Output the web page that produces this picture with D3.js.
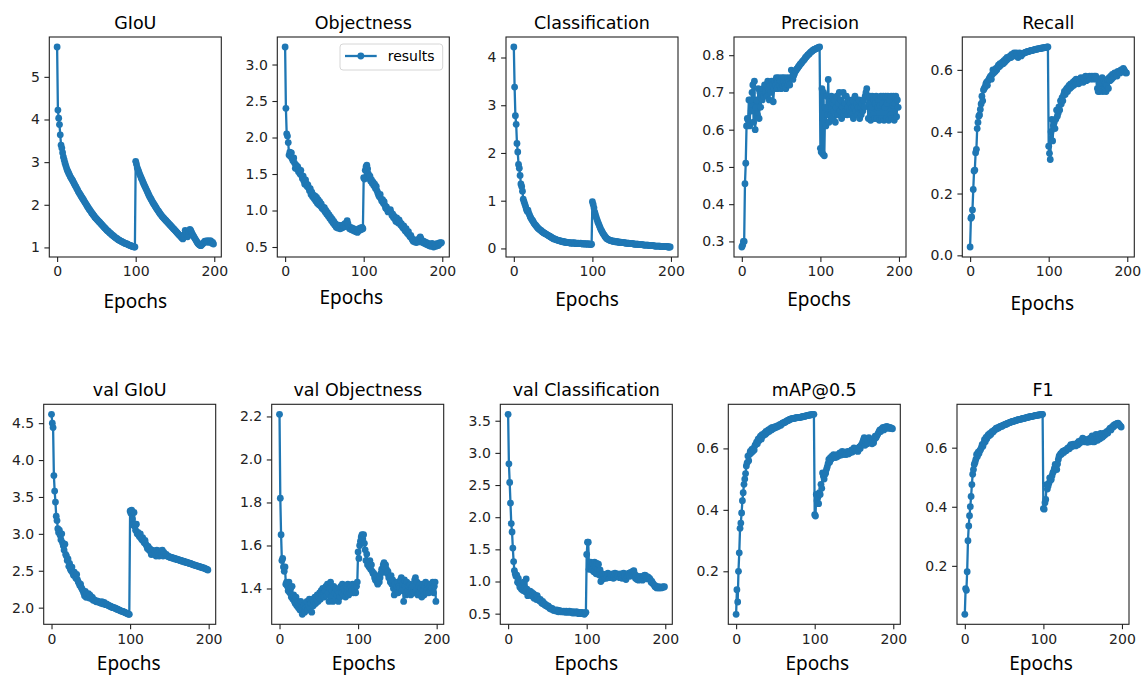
<!DOCTYPE html>
<html>
<head>
<meta charset="utf-8">
<script src="https://cdn.jsdelivr.net/npm/d3@7"></script>
<style>
  body { margin: 0; background: #fff; }
</style>
</head>
<body>
<script>
// epochs 0..199, one value per epoch for every series
const epochs = d3.range(200);

const giou = [
  5.70, 4.22, 4.03, 3.88, 3.64, 3.40, 3.33, 3.22, 3.12, 3.05,
  2.98, 2.92, 2.86, 2.81, 2.77, 2.73, 2.69, 2.65, 2.62, 2.59,
  2.56, 2.52, 2.49, 2.45, 2.42, 2.38, 2.35, 2.31, 2.28, 2.25,
  2.22, 2.19, 2.16, 2.13, 2.10, 2.07, 2.04, 2.01, 1.98, 1.95,
  1.92, 1.89, 1.87, 1.84, 1.81, 1.79, 1.76, 1.74, 1.71, 1.69,
  1.67, 1.65, 1.63, 1.61, 1.59, 1.57, 1.55, 1.53, 1.51, 1.49,
  1.47, 1.45, 1.43, 1.41, 1.39, 1.38, 1.36, 1.34, 1.33, 1.31,
  1.29, 1.28, 1.26, 1.25, 1.23, 1.22, 1.21, 1.19, 1.18, 1.17,
  1.16, 1.15, 1.14, 1.13, 1.12, 1.11, 1.10, 1.09, 1.09, 1.08,
  1.07, 1.06, 1.05, 1.05, 1.04, 1.03, 1.02, 1.02, 1.01, 1.01,
  3.02, 2.95, 2.87, 2.82, 2.77, 2.72, 2.68, 2.63, 2.59, 2.54,
  2.50, 2.46, 2.42, 2.38, 2.34, 2.30, 2.26, 2.22, 2.18, 2.15,
  2.12, 2.08, 2.05, 2.02, 1.99, 1.96, 1.93, 1.90, 1.87, 1.85,
  1.82, 1.79, 1.77, 1.74, 1.72, 1.70, 1.68, 1.66, 1.64, 1.62,
  1.60, 1.58, 1.56, 1.54, 1.52, 1.50, 1.48, 1.46, 1.44, 1.42,
  1.40, 1.38, 1.36, 1.34, 1.32, 1.30, 1.28, 1.26, 1.24, 1.22,
  1.20, 1.24, 1.30, 1.40, 1.36, 1.28, 1.25, 1.30, 1.38, 1.42,
  1.40, 1.36, 1.32, 1.28, 1.25, 1.22, 1.19, 1.16, 1.13, 1.10,
  1.08, 1.06, 1.05, 1.04, 1.06, 1.08, 1.10, 1.12, 1.15, 1.13,
  1.14, 1.16, 1.12, 1.15, 1.13, 1.16, 1.14, 1.10, 1.12, 1.08
];

const objectness = [
  3.24, 2.40, 2.05, 2.02, 1.93, 1.76, 1.80, 1.74, 1.79, 1.71,
  1.68, 1.72, 1.65, 1.58, 1.62, 1.57, 1.60, 1.53, 1.56, 1.50,
  1.55, 1.48, 1.44, 1.47, 1.40, 1.36, 1.42, 1.37, 1.33, 1.35,
  1.31, 1.27, 1.30, 1.22, 1.25, 1.19, 1.21, 1.16, 1.20, 1.13,
  1.18, 1.10, 1.15, 1.08, 1.12, 1.06, 1.09, 1.03, 1.05, 1.01,
  1.04, 0.98, 1.00, 0.95, 0.97, 0.92, 0.94, 0.89, 0.91, 0.86,
  0.88, 0.83, 0.85, 0.80, 0.82, 0.77, 0.79, 0.76, 0.80, 0.77,
  0.75, 0.78, 0.76, 0.80, 0.77, 0.79, 0.82, 0.78, 0.83, 0.86,
  0.82, 0.78, 0.75, 0.77, 0.74, 0.76, 0.73, 0.75, 0.72, 0.74,
  0.71, 0.73, 0.70, 0.72, 0.75, 0.73, 0.76, 0.74, 0.77, 0.75,
  1.45, 1.43, 1.55, 1.60, 1.62, 1.57, 1.50, 1.44, 1.47, 1.40,
  1.42, 1.37, 1.39, 1.34, 1.36, 1.30, 1.33, 1.27, 1.24, 1.21,
  1.19, 1.22, 1.16, 1.13, 1.15, 1.10, 1.12, 1.07, 1.03, 1.05,
  1.01, 0.98, 1.00, 0.99, 1.01, 0.97, 0.93, 0.95, 0.90, 0.92,
  0.88, 0.85, 0.90, 0.86, 0.83, 0.87, 0.84, 0.80, 0.82, 0.78,
  0.76, 0.79, 0.74, 0.72, 0.75, 0.70, 0.68, 0.71, 0.66, 0.64,
  0.66, 0.62, 0.60, 0.58, 0.60, 0.57, 0.59, 0.56, 0.58, 0.60,
  0.57, 0.62, 0.64, 0.61, 0.58, 0.56, 0.58, 0.55, 0.57, 0.54,
  0.56, 0.53, 0.55, 0.52, 0.54, 0.51, 0.53, 0.55, 0.52, 0.50,
  0.52, 0.54, 0.51, 0.53, 0.55, 0.52, 0.54, 0.56, 0.55, 0.56
];

const classification = [
  4.22, 3.38, 2.78, 2.60, 2.20, 2.02, 1.76, 1.68, 1.53, 1.35,
  1.30, 1.20, 1.03, 0.98, 0.93, 0.88, 0.82, 0.78, 0.80, 0.74,
  0.70, 0.66, 0.63, 0.60, 0.58, 0.55, 0.52, 0.50, 0.48, 0.46,
  0.44, 0.42, 0.41, 0.39, 0.38, 0.37, 0.35, 0.34, 0.33, 0.32,
  0.31, 0.30, 0.29, 0.28, 0.27, 0.26, 0.25, 0.24, 0.23, 0.22,
  0.21, 0.20, 0.20, 0.19, 0.18, 0.18, 0.17, 0.17, 0.16, 0.16,
  0.15, 0.15, 0.14, 0.14, 0.14, 0.13, 0.13, 0.13, 0.12, 0.12,
  0.12, 0.12, 0.11, 0.11, 0.12, 0.11, 0.11, 0.12, 0.11, 0.10,
  0.11, 0.10, 0.11, 0.10, 0.10, 0.11, 0.10, 0.10, 0.09, 0.10,
  0.10, 0.09, 0.10, 0.09, 0.09, 0.10, 0.09, 0.09, 0.08, 0.09,
  0.98, 0.92, 0.85, 0.76, 0.70, 0.65, 0.60, 0.55, 0.51, 0.47,
  0.43, 0.39, 0.36, 0.33, 0.30, 0.28, 0.25, 0.23, 0.21, 0.20,
  0.19, 0.18, 0.17, 0.17, 0.16, 0.16, 0.15, 0.15, 0.15, 0.14,
  0.14, 0.14, 0.14, 0.13, 0.13, 0.13, 0.13, 0.12, 0.12, 0.12,
  0.12, 0.12, 0.11, 0.11, 0.11, 0.11, 0.11, 0.10, 0.10, 0.10,
  0.10, 0.10, 0.10, 0.09, 0.09, 0.09, 0.09, 0.09, 0.09, 0.08,
  0.08, 0.08, 0.08, 0.08, 0.08, 0.07, 0.07, 0.07, 0.07, 0.07,
  0.07, 0.07, 0.06, 0.06, 0.06, 0.06, 0.06, 0.06, 0.06, 0.05,
  0.05, 0.05, 0.05, 0.05, 0.05, 0.05, 0.05, 0.04, 0.04, 0.04,
  0.04, 0.04, 0.04, 0.04, 0.04, 0.04, 0.03, 0.03, 0.03, 0.03
];

const precision = [
  0.285, 0.29, 0.30, 0.30, 0.455, 0.51, 0.61, 0.63, 0.625, 0.68,
  0.61, 0.68, 0.65, 0.70, 0.72, 0.62, 0.73, 0.60, 0.66, 0.68,
  0.64, 0.71, 0.63, 0.70, 0.66, 0.70, 0.68, 0.71, 0.69, 0.72,
  0.70, 0.72, 0.69, 0.73, 0.71, 0.68, 0.72, 0.70, 0.73, 0.72,
  0.675, 0.71, 0.73, 0.72, 0.74, 0.71, 0.73, 0.74, 0.72, 0.73,
  0.71, 0.74, 0.72, 0.73, 0.74, 0.72, 0.71, 0.73, 0.74, 0.72,
  0.73, 0.72, 0.74, 0.76, 0.74, 0.735, 0.745, 0.75, 0.756, 0.759,
  0.763, 0.765, 0.769, 0.771, 0.775, 0.777, 0.779, 0.783, 0.785, 0.787,
  0.79, 0.794, 0.795, 0.798, 0.801, 0.802, 0.804, 0.807, 0.809, 0.81,
  0.812, 0.814, 0.815, 0.816, 0.817, 0.818, 0.819, 0.82, 0.821, 0.822,
  0.55, 0.54, 0.71, 0.535, 0.70, 0.53, 0.66, 0.61, 0.69, 0.64,
  0.735, 0.62, 0.68, 0.64, 0.69, 0.63, 0.67, 0.65, 0.68, 0.62,
  0.66, 0.69, 0.64, 0.67, 0.70, 0.65, 0.68, 0.63, 0.66, 0.70,
  0.64, 0.67, 0.65, 0.69, 0.64, 0.66, 0.68, 0.65, 0.67, 0.64,
  0.66, 0.68, 0.63, 0.66, 0.69, 0.65, 0.67, 0.64, 0.66, 0.68,
  0.63, 0.66, 0.64, 0.67, 0.65, 0.68, 0.66, 0.69, 0.70, 0.71,
  0.69, 0.63, 0.67, 0.69, 0.625, 0.66, 0.69, 0.64, 0.68, 0.63,
  0.67, 0.69, 0.63, 0.66, 0.68, 0.625, 0.665, 0.69, 0.63, 0.67,
  0.69, 0.625, 0.66, 0.69, 0.63, 0.67, 0.69, 0.625, 0.68, 0.64,
  0.69, 0.63, 0.665, 0.69, 0.625, 0.67, 0.69, 0.635, 0.68, 0.66
];

const recall = [
  0.027, 0.12, 0.124, 0.147, 0.213, 0.273, 0.276, 0.332, 0.343, 0.41,
  0.43, 0.45, 0.454, 0.472, 0.49, 0.515, 0.50, 0.535, 0.54, 0.545,
  0.555, 0.56, 0.55, 0.565, 0.57, 0.575, 0.58, 0.57, 0.585, 0.60,
  0.59, 0.60, 0.595, 0.605, 0.60, 0.61, 0.615, 0.61, 0.62, 0.615,
  0.62, 0.625, 0.62, 0.63, 0.625, 0.635, 0.63, 0.64, 0.635, 0.64,
  0.64, 0.645, 0.64, 0.65, 0.645, 0.65, 0.655, 0.645, 0.65, 0.655,
  0.65, 0.64, 0.645, 0.655, 0.65, 0.645, 0.65, 0.652, 0.654, 0.655,
  0.656, 0.657, 0.658, 0.659, 0.66, 0.66, 0.661, 0.662, 0.663, 0.663,
  0.664, 0.665, 0.665, 0.666, 0.667, 0.667, 0.668, 0.668, 0.669, 0.669,
  0.67, 0.67, 0.671, 0.671, 0.672, 0.672, 0.673, 0.673, 0.674, 0.674,
  0.353, 0.33, 0.31, 0.40, 0.44, 0.37, 0.42, 0.43, 0.41, 0.44,
  0.47, 0.45, 0.46, 0.48, 0.47, 0.50, 0.49, 0.51, 0.50, 0.52,
  0.53, 0.52, 0.535, 0.54, 0.53, 0.545, 0.55, 0.54, 0.555, 0.545,
  0.55, 0.56, 0.55, 0.565, 0.555, 0.57, 0.56, 0.565, 0.555, 0.57,
  0.56, 0.575, 0.565, 0.57, 0.56, 0.575, 0.57, 0.58, 0.565, 0.575,
  0.57, 0.575, 0.58, 0.57, 0.575, 0.58, 0.575, 0.57, 0.58, 0.575,
  0.58, 0.57, 0.54, 0.53, 0.555, 0.53, 0.56, 0.535, 0.575, 0.53,
  0.565, 0.535, 0.56, 0.53, 0.55, 0.57, 0.54, 0.575, 0.565, 0.58,
  0.57, 0.585, 0.575, 0.58, 0.59, 0.585, 0.59, 0.58, 0.595, 0.59,
  0.595, 0.59, 0.60, 0.595, 0.60, 0.605, 0.60, 0.595, 0.59, 0.59
];

const valGiou = [
  4.62, 4.50, 4.44, 3.79, 3.58, 3.43, 3.24, 3.18, 3.07, 3.02,
  3.05, 2.98, 2.92, 3.00, 2.88, 2.84, 2.78, 2.86, 2.72, 2.70,
  2.64, 2.66, 2.56, 2.60, 2.52, 2.50, 2.55, 2.47, 2.44, 2.48,
  2.43, 2.40, 2.45, 2.38, 2.35, 2.33, 2.30, 2.32, 2.27, 2.25,
  2.23, 2.20, 2.16, 2.22, 2.14, 2.18, 2.15, 2.19, 2.13, 2.17,
  2.15, 2.12, 2.14, 2.10, 2.11, 2.10, 2.09, 2.08, 2.09, 2.08,
  2.08, 2.07, 2.07, 2.06, 2.08, 2.06, 2.05, 2.07, 2.05, 2.04,
  2.05, 2.04, 2.03, 2.03, 2.02, 2.02, 2.01, 2.01, 2.00, 2.00,
  2.00, 1.99, 1.99, 1.98, 1.98, 1.97, 1.97, 1.96, 1.96, 1.95,
  1.95, 1.95, 1.94, 1.94, 1.93, 1.93, 1.92, 1.92, 1.91, 1.91,
  3.31, 3.28, 3.32, 3.20, 3.12, 3.29, 3.10, 3.05, 3.13, 3.00,
  3.02, 2.98, 2.96, 3.00, 2.94, 2.92, 2.95, 2.90, 2.88, 2.91,
  2.86, 2.84, 2.80, 2.83, 2.78, 2.80, 2.76, 2.72, 2.78, 2.74,
  2.77, 2.72, 2.76, 2.70, 2.78, 2.73, 2.75, 2.70, 2.77, 2.74,
  2.72, 2.78, 2.70, 2.75, 2.73, 2.71, 2.72, 2.70, 2.70, 2.69,
  2.69, 2.68, 2.68, 2.68, 2.67, 2.67, 2.67, 2.66, 2.66, 2.66,
  2.65, 2.65, 2.65, 2.64, 2.64, 2.64, 2.63, 2.63, 2.63, 2.62,
  2.62, 2.62, 2.61, 2.61, 2.61, 2.60, 2.60, 2.60, 2.59, 2.59,
  2.58, 2.58, 2.58, 2.57, 2.57, 2.57, 2.56, 2.56, 2.56, 2.55,
  2.55, 2.55, 2.54, 2.54, 2.54, 2.53, 2.53, 2.52, 2.52, 2.51
];

const valObjectness = [
  2.21, 1.82, 1.65, 1.53, 1.54, 1.50, 1.48, 1.50, 1.42, 1.43,
  1.41, 1.39, 1.43, 1.38, 1.40, 1.36, 1.41, 1.35, 1.37, 1.34,
  1.33, 1.36, 1.32, 1.34, 1.31, 1.33, 1.30, 1.34, 1.31, 1.28,
  1.30, 1.32, 1.29, 1.33, 1.31, 1.34, 1.30, 1.32, 1.35, 1.31,
  1.33, 1.29, 1.35, 1.32, 1.34, 1.36, 1.33, 1.35, 1.37, 1.34,
  1.36, 1.38, 1.35, 1.39, 1.37, 1.40, 1.38, 1.36, 1.39, 1.41,
  1.37, 1.42, 1.38, 1.34, 1.40, 1.43, 1.36, 1.39, 1.34, 1.41,
  1.38, 1.35, 1.40, 1.37, 1.39, 1.34, 1.38, 1.36, 1.41, 1.38,
  1.42, 1.37, 1.40, 1.39, 1.36, 1.41, 1.38, 1.42, 1.37, 1.40,
  1.38, 1.41, 1.39, 1.42, 1.38, 1.40, 1.39, 1.38, 1.41, 1.43,
  1.57, 1.54, 1.60, 1.62, 1.64, 1.65, 1.63, 1.65, 1.61, 1.58,
  1.53, 1.56, 1.51, 1.52, 1.50, 1.53, 1.49, 1.51, 1.48, 1.47,
  1.47, 1.45, 1.44, 1.46, 1.43, 1.42, 1.44, 1.43, 1.45, 1.47,
  1.49, 1.48, 1.51, 1.52, 1.50, 1.51, 1.49, 1.47, 1.48, 1.45,
  1.45, 1.43, 1.46, 1.42, 1.44, 1.40, 1.37, 1.42, 1.39, 1.41,
  1.43, 1.38, 1.41, 1.40, 1.44, 1.45, 1.39, 1.42, 1.34, 1.44,
  1.41, 1.37, 1.43, 1.39, 1.41, 1.38, 1.42, 1.37, 1.40, 1.38,
  1.41, 1.38, 1.44, 1.45, 1.39, 1.43, 1.37, 1.41, 1.38, 1.42,
  1.40, 1.36, 1.42, 1.39, 1.37, 1.41, 1.43, 1.38, 1.40, 1.42,
  1.38, 1.41, 1.39, 1.42, 1.40, 1.43, 1.38, 1.41, 1.43, 1.34
];

const valClassification = [
  3.60, 2.83, 2.54, 2.22, 1.90, 1.77, 1.52, 1.31, 1.17, 1.12,
  1.08, 1.10, 0.99, 1.05, 0.96, 0.91, 0.98, 0.88, 0.93, 0.86,
  0.99, 0.90, 0.84, 1.04, 0.88, 0.78, 0.82, 0.80, 0.85, 0.79,
  0.83, 0.77, 0.81, 0.74, 0.79, 0.76, 0.72, 0.78, 0.74, 0.71,
  0.70, 0.72, 0.68, 0.66, 0.69, 0.65, 0.66, 0.63, 0.64, 0.62,
  0.61, 0.62, 0.60, 0.58, 0.59, 0.57, 0.58, 0.56, 0.55, 0.56,
  0.55, 0.54, 0.56, 0.54, 0.53, 0.55, 0.54, 0.53, 0.54, 0.53,
  0.53, 0.54, 0.53, 0.52, 0.54, 0.53, 0.52, 0.53, 0.54, 0.52,
  0.53, 0.52, 0.51, 0.53, 0.52, 0.51, 0.52, 0.53, 0.51, 0.52,
  0.50, 0.52, 0.51, 0.50, 0.52, 0.51, 0.50, 0.49, 0.51, 0.52,
  1.42, 1.61, 1.61, 1.19, 1.25, 1.30, 1.22, 1.18, 1.28, 1.15,
  1.30, 1.24, 1.12, 1.28, 1.20, 1.27, 1.10, 1.18, 1.00, 1.08,
  1.12, 1.04, 1.09, 1.06, 1.11, 1.05, 1.08, 1.13, 1.07, 1.10,
  1.06, 1.11, 1.08, 1.12, 1.05, 1.09, 1.13, 1.07, 1.10, 1.12,
  1.08, 1.11, 1.06, 1.12, 1.09, 1.05, 1.10, 1.13, 1.08, 1.11,
  1.03, 1.09, 1.12, 1.10, 1.13, 1.08, 1.14, 1.11, 1.15, 1.16,
  1.17, 1.12, 1.05, 1.09, 1.03, 1.06, 1.02, 1.05, 1.08, 1.04,
  1.05, 1.02, 1.07, 1.09, 1.10, 1.09, 1.06, 1.04, 1.07, 1.05,
  1.05, 1.03, 0.99, 1.00, 0.97, 0.96, 0.94, 0.92, 0.93, 0.90,
  0.91, 0.90, 0.92, 0.90, 0.91, 0.90, 0.91, 0.92, 0.91, 0.92
];

const mAP = [
  0.06, 0.14, 0.10, 0.20, 0.26, 0.34, 0.357, 0.39, 0.43, 0.456,
  0.483, 0.50, 0.518, 0.543, 0.553, 0.575, 0.56, 0.58, 0.59, 0.585,
  0.597, 0.59, 0.60, 0.595, 0.61, 0.613, 0.62, 0.615, 0.63, 0.625,
  0.635, 0.64, 0.63, 0.645, 0.64, 0.645, 0.65, 0.645, 0.655, 0.65,
  0.656, 0.66, 0.655, 0.662, 0.665, 0.66, 0.668, 0.664, 0.666, 0.67,
  0.667, 0.672, 0.67, 0.674, 0.672, 0.676, 0.678, 0.675, 0.68, 0.682,
  0.683, 0.685, 0.684, 0.687, 0.688, 0.69, 0.691, 0.692, 0.694, 0.695,
  0.696, 0.697, 0.697, 0.698, 0.698, 0.699, 0.699, 0.70, 0.70, 0.70,
  0.70, 0.701, 0.702, 0.702, 0.703, 0.703, 0.704, 0.705, 0.705, 0.706,
  0.707, 0.707, 0.708, 0.708, 0.709, 0.709, 0.71, 0.71, 0.711, 0.711,
  0.384, 0.38, 0.45, 0.43, 0.44, 0.42, 0.456, 0.45, 0.483, 0.47,
  0.52, 0.51, 0.50, 0.515, 0.52, 0.532, 0.54, 0.55, 0.564, 0.555,
  0.57, 0.565, 0.575, 0.57, 0.58, 0.575, 0.57, 0.578, 0.572, 0.58,
  0.575, 0.58, 0.585, 0.578, 0.582, 0.59, 0.585, 0.58, 0.588, 0.583,
  0.58, 0.585, 0.59, 0.582, 0.588, 0.586, 0.59, 0.595, 0.588, 0.593,
  0.602, 0.595, 0.598, 0.592, 0.60, 0.59, 0.598, 0.605, 0.60, 0.61,
  0.613, 0.62, 0.628, 0.635, 0.61, 0.624, 0.63, 0.615, 0.625, 0.635,
  0.63, 0.62, 0.628, 0.615, 0.625, 0.618, 0.63, 0.64, 0.635, 0.64,
  0.645, 0.65, 0.655, 0.66, 0.655, 0.662, 0.665, 0.668, 0.66, 0.665,
  0.67, 0.668, 0.672, 0.668, 0.665, 0.667, 0.668, 0.666, 0.665, 0.664
];

const f1 = [
  0.036, 0.123, 0.117, 0.18, 0.285, 0.335, 0.37, 0.40, 0.435, 0.475,
  0.51, 0.526, 0.543, 0.55, 0.56, 0.577, 0.57, 0.585, 0.58, 0.59,
  0.593, 0.60, 0.61, 0.605, 0.615, 0.627, 0.62, 0.635, 0.63, 0.64,
  0.644, 0.64, 0.648, 0.645, 0.652, 0.655, 0.653, 0.658, 0.66, 0.662,
  0.666, 0.664, 0.668, 0.667, 0.67, 0.671, 0.673, 0.672, 0.675, 0.676,
  0.677, 0.678, 0.68, 0.679, 0.682, 0.683, 0.684, 0.685, 0.686, 0.687,
  0.688, 0.689, 0.69, 0.69, 0.691, 0.692, 0.693, 0.694, 0.695, 0.695,
  0.696, 0.697, 0.697, 0.698, 0.699, 0.699, 0.70, 0.701, 0.701, 0.702,
  0.703, 0.703, 0.704, 0.705, 0.705, 0.706, 0.706, 0.707, 0.708, 0.708,
  0.709, 0.709, 0.71, 0.71, 0.711, 0.711, 0.712, 0.712, 0.713, 0.713,
  0.394, 0.392, 0.414, 0.425, 0.475, 0.46, 0.47, 0.48, 0.498, 0.49,
  0.492, 0.505, 0.515, 0.52, 0.53, 0.543, 0.535, 0.526, 0.545, 0.56,
  0.571, 0.575, 0.58, 0.578, 0.585, 0.588, 0.584, 0.59, 0.592, 0.59,
  0.595, 0.598, 0.60, 0.596, 0.605, 0.61, 0.603, 0.607, 0.612, 0.608,
  0.61, 0.606, 0.612, 0.615, 0.61, 0.621, 0.615, 0.618, 0.625, 0.62,
  0.632, 0.625, 0.62, 0.628, 0.622, 0.621, 0.618, 0.625, 0.63, 0.62,
  0.632, 0.628, 0.64, 0.62, 0.625, 0.62, 0.635, 0.645, 0.63, 0.625,
  0.638, 0.645, 0.63, 0.648, 0.64, 0.635, 0.645, 0.64, 0.65, 0.645,
  0.649, 0.655, 0.65, 0.658, 0.662, 0.666, 0.66, 0.668, 0.672, 0.67,
  0.677, 0.675, 0.68, 0.678, 0.682, 0.683, 0.68, 0.676, 0.673, 0.67
];

const titles = ["GIoU", "Objectness", "Classification", "Precision", "Recall",
  "val GIoU", "val Objectness", "val Classification", "mAP@0.5", "F1"];
const series = [giou, objectness, classification, precision, recall,
  valGiou, valObjectness, valClassification, mAP, f1];
const yTicks = [
  [1, 2, 3, 4, 5],
  [0.5, 1.0, 1.5, 2.0, 2.5, 3.0],
  [0, 1, 2, 3, 4],
  [0.3, 0.4, 0.5, 0.6, 0.7, 0.8],
  [0.0, 0.2, 0.4, 0.6],
  [2.0, 2.5, 3.0, 3.5, 4.0, 4.5],
  [1.4, 1.6, 1.8, 2.0, 2.2],
  [0.5, 1.0, 1.5, 2.0, 2.5, 3.0, 3.5],
  [0.2, 0.4, 0.6],
  [0.2, 0.4, 0.6]
];
const xTicks = [0, 100, 200];
const legendLabel = "results";

// ---- layout (pixels) ----
const W = 1142, H = 675;
const pw = 172, ph = 220;
const lefts = [49.3, 277.3, 506, 734, 962.3, 43.7, 271.7, 500.3, 728.3, 957];
const tops = [37, 37, 37, 37, 37, 404.3, 404.3, 404.3, 404.3, 404.3];
// where the "Epochs" label sits (centre offset, baseline below frame top)
const xlabDx = [0, -12, -5, -1, -6, -1, 6, 0, 3, -2];
const xlabY = [271, 267, 269, 269, 273, 266, 265.5, 266, 265.5, 265.5];
const intFmt = d3.format("d"), oneFmt = d3.format(".1f");
const tickFmt = [intFmt, oneFmt, intFmt, oneFmt, oneFmt, oneFmt, oneFmt, oneFmt, oneFmt, oneFmt];

const blue = "#1f77b4";
const ink = "#222";

const svg = d3.select("body").append("svg")
  .attr("width", W)
  .attr("height", H)
  .style("display", "block");

svg.append("rect").attr("width", W).attr("height", H).attr("fill", "#fff");

const x = d3.scaleLinear()
  .domain([d3.min(epochs) - 0.05 * (d3.max(epochs) - d3.min(epochs)),
           d3.max(epochs) + 0.05 * (d3.max(epochs) - d3.min(epochs))])
  .range([0, pw]);

series.forEach((vals, i) => {
  const g = svg.append("g").attr("transform", `translate(${lefts[i]},${tops[i]})`);

  // matplotlib style autoscale: 5% margin each side
  const lo = d3.min(vals), hi = d3.max(vals), pad = (hi - lo) * 0.05;
  const y = d3.scaleLinear().domain([lo - pad, hi + pad]).range([ph, 0]);

  const xAxis = g.append("g")
    .attr("transform", `translate(0,${ph})`)
    .call(d3.axisBottom(x).tickValues(xTicks).tickSize(4.9).tickPadding(4.6).tickSizeOuter(0));
  const yAxis = g.append("g")
    .call(d3.axisLeft(y).tickValues(yTicks[i]).tickFormat(tickFmt[i]).tickSize(4.9).tickPadding(4.6).tickSizeOuter(0));
  [xAxis, yAxis].forEach(a => {
    a.select(".domain").remove();
    a.selectAll(".tick line").attr("stroke", ink).attr("stroke-width", 1.1);
    a.selectAll(".tick text")
      .attr("fill", ink)
      .style("font-family", "DejaVu Sans")
      .style("font-size", "14px");
  });

  const line = d3.line()
    .x((d, k) => x(epochs[k]))
    .y(d => y(d));

  g.append("path")
    .datum(vals)
    .attr("fill", "none")
    .attr("stroke", blue)
    .attr("stroke-width", 2.3)
    .attr("stroke-linejoin", "round")
    .attr("d", line);

  g.append("g")
    .selectAll("circle")
    .data(vals)
    .join("circle")
    .attr("cx", (d, k) => x(epochs[k]))
    .attr("cy", d => y(d))
    .attr("r", 3.4)
    .attr("fill", blue);

  g.append("rect")
    .attr("width", pw)
    .attr("height", ph)
    .attr("fill", "none")
    .attr("stroke", ink)
    .attr("stroke-width", 1.1);

  g.append("text")
    .attr("x", pw / 2)
    .attr("y", -8)
    .attr("text-anchor", "middle")
    .attr("fill", "#000")
    .style("font-family", "DejaVu Sans")
    .style("font-size", "17.5px")
    .text(titles[i]);

  g.append("text")
    .attr("x", pw / 2 + xlabDx[i])
    .attr("y", xlabY[i])
    .attr("text-anchor", "middle")
    .attr("fill", "#000")
    .style("font-family", "Noto Sans")
    .style("font-size", "19px")
    .text("Epochs");

  if (i === 1) {
    const lg = g.append("g").attr("transform", "translate(62.7,7)");
    lg.append("rect")
      .attr("width", 102.7)
      .attr("height", 26)
      .attr("rx", 3)
      .attr("fill", "#fff")
      .attr("fill-opacity", 0.8)
      .attr("stroke", "#d6d6d6")
      .attr("stroke-width", 1);
    lg.append("line")
      .attr("x1", 5).attr("x2", 36.7)
      .attr("y1", 12).attr("y2", 12)
      .attr("stroke", blue)
      .attr("stroke-width", 2.3);
    lg.append("circle")
      .attr("cx", 20.8).attr("cy", 12).attr("r", 3.4)
      .attr("fill", blue);
    lg.append("text")
      .attr("x", 47.7)
      .attr("y", 16.8)
      .attr("fill", "#000")
      .style("font-family", "DejaVu Sans")
      .style("font-size", "14px")
      .text(legendLabel);
  }
});
</script>
</body>
</html>
